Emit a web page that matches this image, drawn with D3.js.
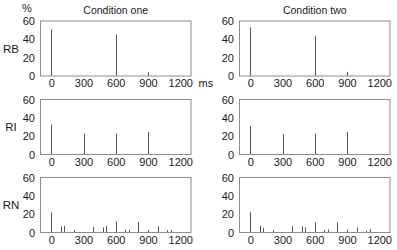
<!DOCTYPE html>
<html><head><meta charset="utf-8">
<script src="https://cdn.jsdelivr.net/npm/d3@7"></script>
<style>body{margin:0;background:#fff}svg{display:block}text{font-family:"Liberation Sans",Arial,sans-serif;fill:#1a1a1a}</style>
</head><body><svg id="c" width="397" height="250"></svg>
<script>
const conditions = ["Condition one", "Condition two"];
const rowLabels = ["RB", "RI", "RN"];
const xTicks = [0, 300, 600, 900, 1200];
const yTicks = [0, 20, 40, 60];
const rbTimes = [0, 600, 900];
const rbOne = [51, 45, 4];
const rbTwo = [53, 43.5, 4.5];
const riTimes = [0, 300, 600, 900];
const riOne = [32.5, 23, 23, 24.5];
const riTwo = [31, 22, 23, 24.5];
const rnTimes = [0, 90, 120, 210, 390, 480, 510, 600, 690, 720, 810, 900, 990, 1080, 1110];
const rnOne = [22, 6.5, 7, 2.5, 6, 5.5, 7, 12.3, 3, 3, 11.5, 2.5, 7, 2.5, 2.5];
const rnTwo = [22, 7.5, 4.8, 2.5, 7, 7, 5.5, 11, 2.5, 3.2, 11, 3.2, 5.4, 2, 3.8];

const rows = [
  {label: rowLabels[0], times: rbTimes, vals: [rbOne, rbTwo]},
  {label: rowLabels[1], times: riTimes, vals: [riOne, riTwo]},
  {label: rowLabels[2], times: rnTimes, vals: [rnOne, rnTwo]}
];

const svg = d3.select("#c");
const colLeft = [40.5, 239.5], colWidth = 150.5;
const rowTop = [21, 99.5, 177.5], rowH = 55;
const fmt = d3.format("d");

rows.forEach((row, ri) => {
  const top = rowTop[ri], bottom = top + rowH;
  const y = d3.scaleLinear().domain([0, 60]).range([bottom, top]);
  svg.append("text").attr("x", 11).attr("y", (top + bottom) / 2 + 1)
    .attr("text-anchor", "middle").attr("dominant-baseline", "middle")
    .style("font-size", "11.5px").text(row.label);
  conditions.forEach((cond, ci) => {
    const x = d3.scaleLinear().domain([-100, 1300]).range([colLeft[ci], colLeft[ci] + colWidth]);
    const g = svg.append("g");
    g.selectAll("line.bar").data(row.times.map((t, i) => ({t, v: row.vals[ci][i]})))
      .enter().append("line").attr("class", "bar")
      .attr("x1", d => Math.round(x(d.t)) + 0.5).attr("x2", d => Math.round(x(d.t)) + 0.5)
      .attr("y1", y(0)).attr("y2", d => y(d.v))
      .attr("stroke", "#555").attr("stroke-width", 1);
    g.append("rect").attr("x", colLeft[ci]).attr("y", top).attr("width", colWidth).attr("height", rowH)
      .attr("fill", "none").attr("stroke", "#8c8c8c").attr("stroke-width", 1);
    const xa = d3.axisBottom(x).tickValues(xTicks).tickFormat(fmt).tickSize(0).tickPadding(3.5);
    const gx = svg.append("g").attr("transform", `translate(0,${bottom})`).call(xa);
    gx.select(".domain").remove();
    gx.selectAll("text").style("font-size", "11px").attr("fill", "#1a1a1a").style("font-family", "Liberation Sans, Arial, sans-serif");
    const ya = d3.axisLeft(y).tickValues(yTicks).tickFormat(fmt).tickSize(0).tickPadding(5.5);
    const gy = svg.append("g").attr("transform", `translate(${colLeft[ci]},0)`).call(ya);
    gy.select(".domain").remove();
    gy.selectAll("text").style("font-size", "11px").attr("fill", "#1a1a1a").style("font-family", "Liberation Sans, Arial, sans-serif");
    if (ri === 0) {
      svg.append("text").attr("x", colLeft[ci] + colWidth / 2).attr("y", 11)
        .attr("text-anchor", "middle").attr("dominant-baseline", "middle")
        .style("font-size", "10.5px").text(cond);
    }
  });
});
svg.append("text").attr("x", 27).attr("y", 9.5).attr("text-anchor", "middle")
  .attr("dominant-baseline", "middle").style("font-size", "11px").text("%");
svg.append("text").attr("x", 198.5).attr("y", 84).attr("dominant-baseline", "middle")
  .style("font-size", "11px").text("ms");
</script></body></html>
